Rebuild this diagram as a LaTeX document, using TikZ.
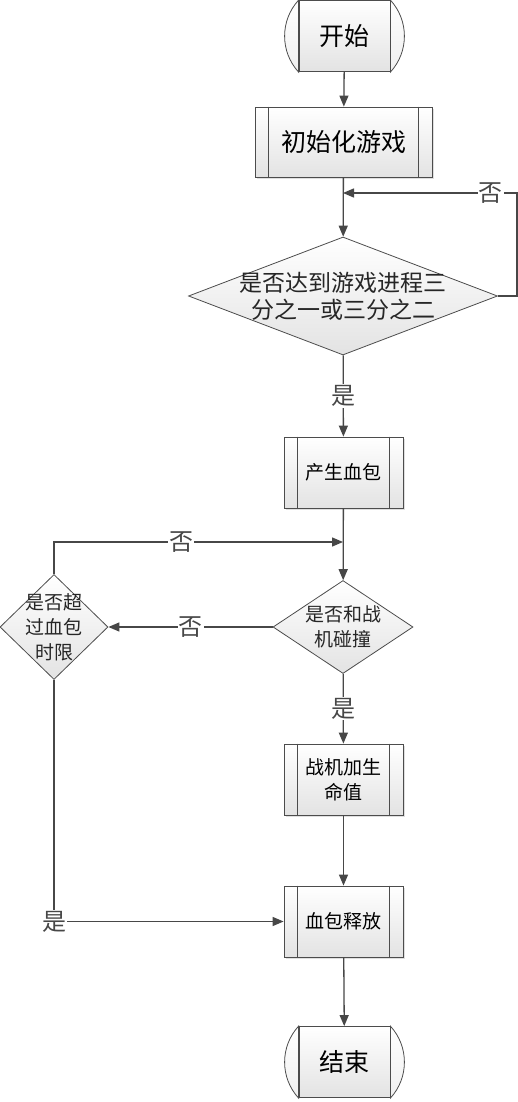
\documentclass[tikz,border=0pt]{standalone}
\usepackage{fontspec}
\newfontfamily\cjk{Noto Sans CJK SC}
\usetikzlibrary{arrows.meta, shapes.geometric, shadows}
\colorlet{Bd}{black!70}
\colorlet{Ln}{black!72}
\colorlet{Cg}{black!11}
\tikzset{
  shd/.style  = {top color=white, bottom color=Cg, draw=Bd, line width=0.8pt},
  term/.style = {shd, minimum width=91pt, minimum height=71pt, inner sep=0pt,
                 font=\cjk\fontsize{25}{30}\selectfont},
  proc/.style = {shd, minimum width=119pt, minimum height=71pt, inner sep=0pt,
                 align=center, font=\cjk\fontsize{19}{25}\selectfont,
                 drop shadow={shadow xshift=2pt, shadow yshift=-2pt,
                              fill=black!25, opacity=0.5}},
  dec/.style  = {diamond, shd, inner sep=0pt},
  dtxt/.style = {align=center, font=\cjk\fontsize{19}{25}\selectfont, text=black!85},
  arr/.style  = {-{Triangle[length=11pt, width=9pt]}, line width=1.3pt, Ln},
  lbl/.style  = {fill=white, inner sep=1pt, font=\cjk\fontsize{24}{26}\selectfont},
}

\begin{document}
\begin{tikzpicture}[x=1pt, y=1pt]
\useasboundingbox (0,0) rectangle (517,-1102);

%% main column
\node[term] (start) at (344.5,-36) {开始};
\node[proc, minimum width=177pt, minimum height=70pt,
      font=\cjk\fontsize{25}{30}\selectfont] (init) at (343.5,-142) {初始化游戏};
\node[dec, minimum width=309pt, minimum height=118pt,
      label={[dtxt, font=\cjk\fontsize{23}{27}\selectfont]center:{是否达到游戏进程三\\分之一或三分之二}}]
      (reach) at (343,-296) {};
\node[proc] (blood) at (343.5,-472.5) {产生血包};
\node[dec, minimum width=140pt, minimum height=93pt,
      label={[dtxt]center:{是否和战\\机碰撞}}] (hit) at (343,-627) {};
\node[dec, minimum width=108pt, minimum height=105pt,
      label={[dtxt]center:{是否超\\过血包\\时限}}] (timeout) at (54,-627) {};
\node[proc] (heal) at (343.5,-779.5) {战机加生\\命值};
\node[proc] (release) at (343.5,-921.5) {血包释放};
\node[term] (stop) at (344.5,-1062) {结束};

%% terminator caps and process side bars
\foreach \t in {start, stop} {
  \draw[shd, bottom color=black!6] (\t.north west) arc[start angle=137.5, end angle=222.5, radius=53.3pt] -- cycle;
  \draw[shd, bottom color=black!6] (\t.north east) arc[start angle=42.5, end angle=-42.5, radius=53.3pt] -- cycle;
}
\foreach \b in {init, blood, heal, release} {
  \draw[Bd, line width=0.8pt] ([xshift=14pt]\b.north west) -- ([xshift=14pt]\b.south west);
  \draw[Bd, line width=0.8pt] ([xshift=-14pt]\b.north east) -- ([xshift=-14pt]\b.south east);
}

\coordinate (back) at (343,-193);
\coordinate (retry) at (343,-542);

%% connectors
\draw[arr] (start) -- (init);
\draw[arr] (init) -- (reach);
\draw[arr] (reach.east) -- ++(19,0) |- node[lbl, pos=0.575]{否} (back);
\draw[arr] (reach) -- node[lbl]{是} (blood);
\draw[arr] (blood) -- (hit);
\draw[arr] (hit.west) -- node[lbl]{否} (timeout.east);
\draw[arr] (timeout.north) |- node[lbl, pos=0.72]{否} (retry);
\draw[arr] (hit) -- node[lbl]{是} (heal);
\draw[arr] (heal) -- (release);
\draw[arr] (timeout.south) |- node[lbl, pos=0.5]{是} (release.west);
\draw[arr] (release) -- (stop);

\end{tikzpicture}
\end{document}
